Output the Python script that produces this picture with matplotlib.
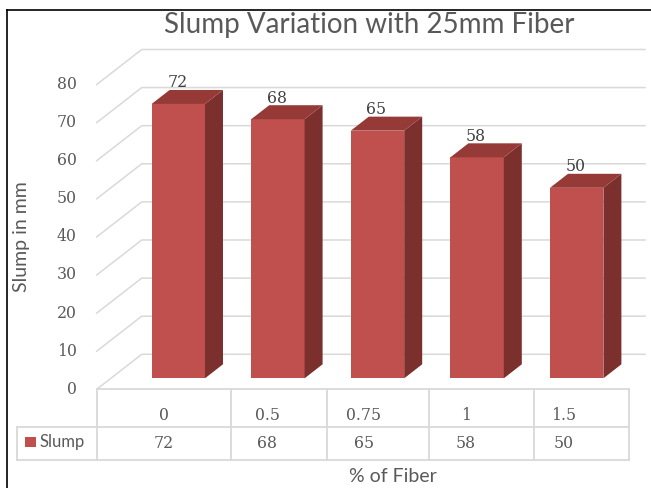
import matplotlib.pyplot as plt
from matplotlib.patches import Polygon, Rectangle
from matplotlib.transforms import Affine2D, offset_copy

# data
fiber = ['0', '0.5', '0.75', '1', '1.5']
slump = [72, 68, 65, 58, 50]
yticks = [0, 10, 20, 30, 40, 50, 60, 70, 80]

SANS = 'Lato'
SERIF = 'DejaVu Serif'
TXT = '#595959'
GRID = '#D9D9D9'
FRONT, SIDE, TOP = '#C0504D', '#7B302E', '#963A38'
NUM = 11.3

fig = plt.figure(figsize=(6.51, 4.88), dpi=100)
ax = fig.add_axes([0, 0, 1, 1])
ax.set_xlim(-1.790, 4.746)
ax.set_ylim(-28.79, 99.29)
ax.axis('off')

# pixel coords (origin top-left) for the frame / table
P = Affine2D().scale(0.01, -0.01).translate(0, 4.88) + fig.dpi_scale_trans

# oblique projection for the 3d look
DX, DY = 0.452, 9.19


def proj(x, v, d):
    return x + DX * d, v + DY * d


d_front, d_back = -0.314, 0.686
x_left, x_right = -0.677, 4.376
half, depth = 0.268, 0.4

# walls / gridlines
for v in yticks:
    p0 = proj(x_left, v, d_front)
    p1 = proj(x_left, v, d_back)
    p2 = proj(x_right, v, d_back)
    ax.plot([p0[0], p1[0], p2[0]], [p0[1], p1[1], p2[1]], color=GRID, lw=1.1, zorder=1)
    ax.text(p0[0], p0[1], str(v), transform=offset_copy(ax.transData, fig, x=-20, y=0, units='dots'),
            ha='right', va='center', fontsize=NUM, family=SERIF, color=TXT)

# bars
for i, v in enumerate(slump):
    ax.add_patch(Rectangle((i - half, 0), 2 * half, v, fc=FRONT, lw=0, zorder=3))
    ax.add_patch(Polygon([proj(i + half, 0, 0), proj(i + half, 0, depth),
                          proj(i + half, v, depth), proj(i + half, v, 0)], fc=SIDE, lw=0, zorder=3))
    ax.add_patch(Polygon([proj(i - half, v, 0), proj(i + half, v, 0),
                          proj(i + half, v, depth), proj(i - half, v, depth)], fc=TOP, lw=0, zorder=3))
    ax.text(i, v, str(v), transform=offset_copy(ax.transData, fig, x=-1, y=21, units='dots'),
            ha='center', va='center', fontsize=NUM, family=SERIF, color='#404040', zorder=4)

# data table
col_edges = [96.7, 231, 327, 429, 534, 629]
head_x = [164, 267, 364, 466, 564]
row_top, row_mid, row_bot, row_left = 389.3, 427.3, 460, 17.3
tk = dict(transform=P, color=GRID, lw=1.3, zorder=2)
ax.plot([col_edges[0], col_edges[-1]], [row_top, row_top], **tk)
ax.plot([row_left, col_edges[-1]], [row_mid, row_mid], **tk)
ax.plot([row_left, col_edges[-1]], [row_bot, row_bot], **tk)
ax.plot([row_left, row_left], [row_mid, row_bot], **tk)
for xe in col_edges:
    ax.plot([xe, xe], [row_top, row_bot], **tk)
for xc, lab, v in zip(head_x, fiber, slump):
    ax.text(xc, 415, lab, transform=P, ha='center', va='center', fontsize=NUM, family=SERIF, color=TXT)
    ax.text(xc, 443.5, str(v), transform=P, ha='center', va='center', fontsize=NUM, family=SERIF, color=TXT)
ax.add_patch(Rectangle((25, 437), 10.7, 9.7, transform=P, fc=FRONT, lw=0))
ax.text(39, 442, 'Slump', transform=P, ha='left', va='center', fontsize=12, family=SANS, color=TXT)

# titles
ax.text(369, 25, 'Slump Variation with 25mm Fiber', transform=P, ha='center', va='center',
        fontsize=20, family=SANS, color=TXT)
ax.text(393, 476, '% of Fiber', transform=P, ha='center', va='center', fontsize=14, family=SANS, color=TXT)
ax.text(22, 237, 'Slump in mm', transform=P, ha='center', va='center', rotation=90,
        fontsize=14, family=SANS, color=TXT)

# outer frame (top and left only visible)
ax.plot([7, 651], [9.5, 9.5], transform=P, color='black', lw=1.2)
ax.plot([7, 7], [9.5, 488], transform=P, color='black', lw=1.2)

fig.savefig('out.png', dpi=100)
